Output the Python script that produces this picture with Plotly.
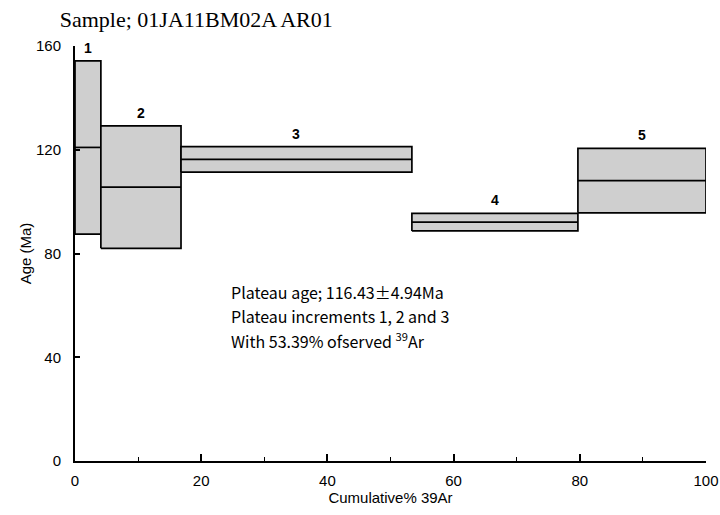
import plotly.graph_objects as go

# Step-heating increments: cumulative %39Ar bounds, apparent age and 1-sigma error (Ma)
step_labels = ["1", "2", "3", "4", "5"]
cum_start = [0.0, 4.1, 16.8, 53.39, 79.7]
cum_end = [4.1, 16.8, 53.39, 79.7, 100.0]
ages = [120.9, 105.6, 116.3, 92.1, 108.1]
errors = [33.4, 23.6, 4.9, 3.4, 12.4]

x_ticks = [0, 20, 40, 60, 80, 100]
y_ticks = [0, 40, 80, 120, 160]

info_lines = [
    "Plateau age; 116.43±4.94Ma",
    "Plateau increments 1, 2 and 3",
    "With 53.39% ofserved <sup>39</sup>Ar",
]
info_y = [65.2, 55.9, 46.6]

fig = go.Figure()

for lab, x0, x1, a, e in zip(step_labels, cum_start, cum_end, ages, errors):
    lo, hi = a - e, a + e
    # error box
    fig.add_trace(go.Scatter(
        x=[x0, x1, x1, x0, x0], y=[lo, lo, hi, hi, lo],
        mode="lines", fill="toself", fillcolor="#cfcfcf",
        line=dict(color="black", width=1.7), hoverinfo="skip", showlegend=False))
    # central age
    fig.add_trace(go.Scatter(
        x=[x0, x1], y=[a, a], mode="lines",
        line=dict(color="black", width=1.7), hoverinfo="skip", showlegend=False))
    # step number above the box
    fig.add_annotation(
        x=(x0 + x1) / 2, y=hi, text="<b>" + lab + "</b>", showarrow=False,
        yanchor="bottom", yshift=3,
        font=dict(family="Liberation Sans", size=14, color="black"))

for line, yv in zip(info_lines, info_y):
    fig.add_annotation(
        x=24.4, y=yv, xref="x", yref="y", xanchor="left", yanchor="middle",
        showarrow=False, text=line,
        font=dict(family="Noto Sans CJK JP", size=16, color="black"))

fig.update_layout(
    width=720, height=515,
    margin=dict(l=75, r=14, t=46, b=54),
    paper_bgcolor="white", plot_bgcolor="white",
    title=dict(text="Sample; 01JA11BM02A AR01", x=0.083, xanchor="left",
               y=0.962, yanchor="middle",
               font=dict(family="Liberation Serif", size=22, color="black")),
)

fig.update_xaxes(
    range=[0, 100], tickvals=x_ticks, showgrid=False, zeroline=False,
    automargin=False,
    showline=True, linecolor="black", linewidth=2,
    ticks="inside", ticklen=7, tickwidth=1.5, tickcolor="black",
    minor=dict(dtick=10, ticks="inside", ticklen=4, tickwidth=1.2, tickcolor="black"),
    ticklabelstandoff=5,
    tickfont=dict(family="Liberation Sans", size=15, color="black"),
    title=dict(text="Cumulative% 39Ar", standoff=2,
               font=dict(family="Liberation Sans", size=15, color="black")),
)
fig.update_yaxes(
    range=[0, 160], tickvals=y_ticks, showgrid=False, zeroline=False,
    automargin=False,
    showline=True, linecolor="black", linewidth=2,
    ticks="inside", ticklen=5, tickwidth=1.5, tickcolor="black",
    ticklabelstandoff=9,
    tickfont=dict(family="Liberation Sans", size=15, color="black"),
    title=dict(text="Age (Ma)", standoff=1,
               font=dict(family="Liberation Sans", size=15, color="black")),
)

fig.write_html("out.html")
